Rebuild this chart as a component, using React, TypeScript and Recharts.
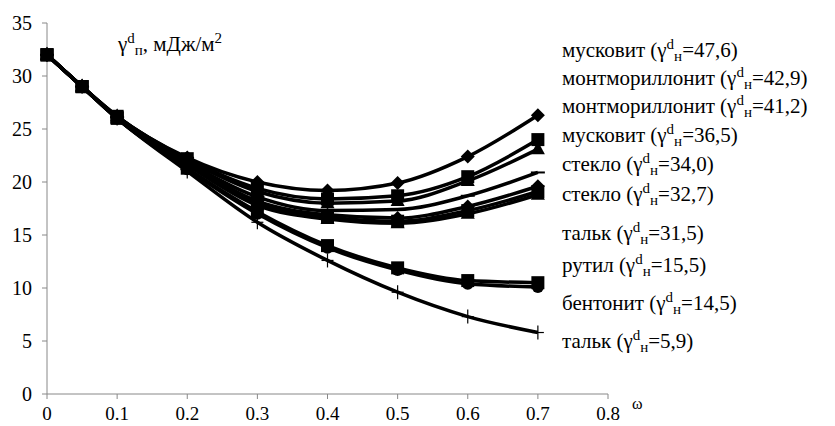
import { LineChart, Line, XAxis, YAxis } from 'recharts'

const omega = [0, 0.05, 0.1, 0.2, 0.3, 0.4, 0.5, 0.6, 0.7]
const xTicks = [0, 0.1, 0.2, 0.3, 0.4, 0.5, 0.6, 0.7, 0.8]
const yTicks = [0, 5, 10, 15, 20, 25, 30, 35]

const muscovite476 = [32, 29, 26.2, 22.3, 20.0, 19.2, 19.9, 22.4, 26.3]
const montmor429 = [32, 29, 26.2, 22.2, 19.4, 18.4, 18.7, 20.5, 24.0]
const montmor412 = [32, 29, 26.2, 22.1, 19.1, 18.0, 18.2, 20.1, 23.1]
const muscovite365 = [32, 29, 26.1, 21.9, 18.6, 17.3, 17.4, 18.7, 20.9]
const glass340 = [32, 29, 26.1, 21.8, 18.2, 16.9, 16.6, 17.7, 19.6]
const glass327 = [32, 29, 26.1, 21.7, 18.0, 16.7, 16.3, 17.3, 19.1]
const talc315 = [32, 29, 26.0, 21.6, 17.8, 16.5, 16.1, 17.0, 18.8]
const rutile155 = [32, 29, 26.0, 21.3, 17.2, 14.0, 11.9, 10.7, 10.5]
const bentonite145 = [32, 29, 26.0, 21.2, 17.0, 13.8, 11.7, 10.4, 10.1]
const talc59 = [32, 29, 26.0, 21.0, 16.2, 12.6, 9.6, 7.3, 5.8]

const labels = [
  { name: 'мусковит', value: '47,6' },
  { name: 'монтмориллонит', value: '42,9' },
  { name: 'монтмориллонит', value: '41,2' },
  { name: 'мусковит', value: '36,5' },
  { name: 'стекло', value: '34,0' },
  { name: 'стекло', value: '32,7' },
  { name: 'тальк ', value: '31,5' },
  { name: 'рутил', value: '15,5' },
  { name: 'бентонит', value: '14,5' },
  { name: 'тальк', value: '5,9' },
]
// text baselines of the labels on the right
const labelBaselines = [57, 85, 113, 142, 171, 201, 240, 272, 310, 348]

const series = [
  { key: 't59', values: talc59, marker: 'plus' },
  { key: 'b145', values: bentonite145, marker: 'circle' },
  { key: 'm476', values: muscovite476, marker: 'diamond' },
  { key: 'mm412', values: montmor412, marker: 'triangle' },
  { key: 'm365', values: muscovite365, marker: 'dash' },
  { key: 'g340', values: glass340, marker: 'diamond' },
  { key: 't315', values: talc315, marker: 'triangle' },
  { key: 'mm429', values: montmor429, marker: 'square' },
  { key: 'g327', values: glass327, marker: 'square' },
  { key: 'r155', values: rutile155, marker: 'square' },
]

const data = omega.map((w, i) => {
  const row: Record<string, number> = { w }
  series.forEach(s => { row[s.key] = s.values[i] })
  return row
})

function Marker({ cx, cy, shape }: { cx?: number; cy?: number; shape: string }) {
  if (cx == null || cy == null) return null
  if (shape === 'square') return <rect x={cx - 6.5} y={cy - 6.5} width={13} height={13} fill="#000" />
  if (shape === 'diamond') return <polygon points={`${cx},${cy - 7} ${cx + 7},${cy} ${cx},${cy + 7} ${cx - 7},${cy}`} fill="#000" />
  if (shape === 'triangle') return <polygon points={`${cx},${cy - 8} ${cx + 7},${cy + 5} ${cx - 7},${cy + 5}`} fill="#000" />
  if (shape === 'circle') return <circle cx={cx} cy={cy} r={6} fill="#000" />
  if (shape === 'dash') return <line x1={cx - 7} y1={cy} x2={cx + 7} y2={cy} stroke="#000" strokeWidth={2} />
  return (
    <g stroke="#000" strokeWidth={1.2}>
      <line x1={cx - 6} y1={cy} x2={cx + 6} y2={cy} />
      <line x1={cx} y1={cy - 7} x2={cx} y2={cy + 7} />
    </g>
  )
}

const serif = 'Liberation Serif'

export default function App() {
  return (
    <div style={{ position: 'absolute', left: 0, top: 0, width: 835, height: 426, background: '#fff' }}>
      <LineChart width={835} height={426} data={data} margin={{ top: 23, right: 227, left: 0, bottom: 0 }}>
        <XAxis
          dataKey="w"
          type="number"
          domain={[0, 0.8]}
          ticks={xTicks}
          tickFormatter={(v: number) => (v === 0 ? '0' : v.toFixed(1))}
          stroke="#888"
          tickSize={5}
          tickMargin={8}
          height={32}
          tick={{ fill: '#000', fontSize: 19, fontFamily: serif }}
        />
        <YAxis
          domain={[0, 35]}
          ticks={yTicks}
          stroke="#888"
          tickSize={5}
          tickMargin={10}
          width={47}
          tick={{ fill: '#000', fontSize: 20, fontFamily: serif }}
        />
        {series.map(s => (
          <Line
            key={s.key}
            dataKey={s.key}
            type="monotone"
            stroke="#000"
            strokeWidth={3.5}
            dot={(p: any) => <Marker key={`${s.key}-${p.index}`} cx={p.cx} cy={p.cy} shape={s.marker} />}
            activeDot={false}
            isAnimationActive={false}
          />
        ))}
      </LineChart>
      <svg width={835} height={426} style={{ position: 'absolute', left: 0, top: 0, pointerEvents: 'none' }} fontFamily={serif} fill="#000">
        <text x={118} y={51} fontSize={21}>
          γ<tspan dy={-8} fontSize={15}>d</tspan>
          <tspan dy={12} fontSize={15}>п</tspan>
          <tspan dy={-4}>, мДж/м</tspan>
          <tspan dy={-8} fontSize={15}>2</tspan>
        </text>
        <text x={632} y={409} fontSize={16}>ω</text>
        {labels.map((l, i) => (
          <text key={i} x={562} y={labelBaselines[i]} fontSize={21}>
            {l.name} (γ<tspan dy={-8} fontSize={15}>d</tspan>
            <tspan dy={12} fontSize={15}>н</tspan>
            <tspan dy={-4}>={l.value})</tspan>
          </text>
        ))}
      </svg>
    </div>
  )
}
